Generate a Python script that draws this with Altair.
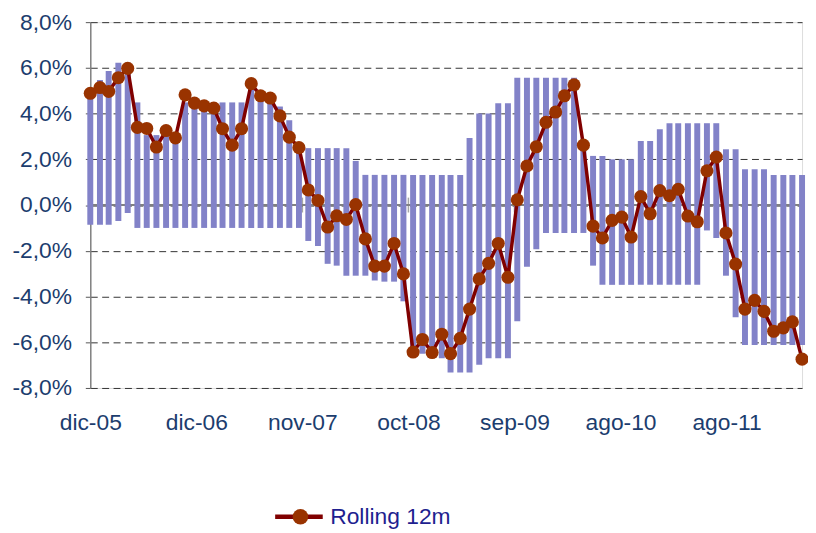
import altair as alt
import pandas as pd

# ---------------- data ----------------
first_month_end = "2005-12-31"

rolling_12m = [4.89, 5.14, 4.97, 5.57, 5.98, 3.40, 3.35, 2.54, 3.26, 2.94,
               4.82, 4.46, 4.34, 4.24, 3.34, 2.62, 3.34, 5.31, 4.78, 4.68,
               3.90, 2.97, 2.51, 0.66, 0.20, -0.96, -0.47, -0.63, 0.02, -1.48,
               -2.67, -2.67, -1.68, -3.01, -6.43, -5.88, -6.45, -5.65, -6.50, -5.83,
               -4.55, -3.23, -2.55, -1.68, -3.16, 0.23, 1.71, 2.55, 3.62, 4.07,
               4.78, 5.26, 2.62, -0.92, -1.44, -0.67, -0.53, -1.40, 0.37, -0.38,
               0.63, 0.41, 0.69, -0.48, -0.73, 1.50, 2.10, -1.22, -2.58, -4.55,
               -4.17, -4.65, -5.52, -5.37, -5.11, -6.74]

range_low = [-0.86, -0.86, -0.86, -0.70, -0.35, -1.00, -1.00, -1.00, -1.00, -1.00,
             -1.00, -1.00, -1.00, -1.00, -1.00, -1.00, -1.00, -1.00, -1.00, -1.00,
             -1.00, -1.00, -1.00, -1.57, -1.79, -2.57, -2.65, -3.09, -3.09, -3.09,
             -3.30, -3.35, -3.35, -4.21, -6.45, -6.50, -6.60, -6.70, -7.32, -7.32,
             -7.32, -6.99, -6.70, -6.70, -6.70, -5.08, -2.70, -1.93, -1.22, -1.22,
             -1.22, -1.22, -1.22, -2.65, -3.49, -3.49, -3.49, -3.49, -3.49, -3.49,
             -3.49, -3.49, -3.49, -3.49, -3.49, -1.11, -1.44, -3.09, -4.91, -6.12,
             -6.12, -6.12, -6.12, -6.12, -6.12, -6.12]

range_high = [4.90, 5.47, 5.86, 6.22, 6.22, 4.49, 3.06, 3.06, 3.06, 3.06,
              4.49, 4.49, 4.49, 4.49, 4.49, 4.49, 4.49, 5.30, 4.80, 4.60,
              4.31, 3.71, 2.60, 2.49, 2.49, 2.49, 2.49, 2.49, 1.93, 1.32,
              1.32, 1.32, 1.32, 1.32, 1.32, 1.32, 1.32, 1.32, 1.32, 1.32,
              2.93, 4.01, 4.01, 4.45, 4.45, 5.57, 5.57, 5.57, 5.57, 5.57,
              5.57, 5.57, 2.80, 2.15, 2.15, 2.00, 2.00, 2.00, 2.80, 2.80,
              3.32, 3.58, 3.58, 3.58, 3.58, 3.58, 3.58, 2.44, 2.44, 1.57,
              1.57, 1.57, 1.32, 1.32, 1.32, 1.32]

series_name = "Rolling 12m"

# axis tick label positions (dates) and Spanish month abbreviations
tick_dates = [(2005, 12, 31), (2006, 12, 6), (2007, 11, 11), (2008, 10, 16),
              (2009, 9, 21), (2010, 8, 27), (2011, 8, 2)]
months_es = ["ene", "feb", "mar", "abr", "may", "jun",
             "jul", "ago", "sep", "oct", "nov", "dic"]
y_ticks = [-8, -6, -4, -2, 0, 2, 4, 6, 8]

# ---------------- tables ----------------
dates = pd.date_range(first_month_end, periods=len(rolling_12m),
                      freq=pd.offsets.MonthEnd())
df = pd.DataFrame({
    "fecha": dates.strftime("%Y-%m-%d"),
    "roll": rolling_12m,
    "lo": range_low,
    "hi": range_high,
    "serie": series_name,
    "serie2": series_name,
})
ticks_df = pd.DataFrame({
    "fecha": [f"{y:04d}-{m:02d}-{d:02d}" for (y, m, d) in tick_dates]
})

FONT = "Liberation Sans"
AXIS_TXT = "#1c3d6e"
LEG_TXT = "#1f1f8f"

month_arr = "[" + ",".join(f"'{m}'" for m in months_es) + "]"
x_label_expr = f"{month_arr}[utcmonth(datum.value)] + '-' + utcFormat(datum.value, '%y')"
y_label_expr = "replace(replace(format(datum.value, '.1f'), '.', ','), '\u2212', '-') + '%'"

x_scale = alt.Scale(
    type="utc",
    domain=[alt.DateTime(year=2005, month=12, date=31, utc=True),
            alt.DateTime(year=2012, month=3, date=31, utc=True)],
    padding=0, nice=False,
)
y_scale = alt.Scale(domain=[-8, 8], nice=False, zero=False, padding=0)

x_axis = alt.Axis(
    values=[alt.DateTime(year=y, month=m, date=d, utc=True) for (y, m, d) in tick_dates],
    labelExpr=x_label_expr,
    grid=False, ticks=False, tickSize=0, domain=False,
    labelFont=FONT, labelFontSize=23, labelColor=AXIS_TXT,
    labelBaseline="alphabetic", labelPadding=42,
    labelFlush=False, labelOverlap=False, labelBound=False,
    title=None,
)
y_axis = alt.Axis(
    values=y_ticks, labelExpr=y_label_expr,
    grid=True, gridDash=[7, 4.5], gridColor="#333333", gridWidth=1,
    domainColor="#808080", domainWidth=1.5,
    tickColor="#555555", tickSize=5, tickWidth=1,
    labelFont=FONT, labelFontSize=23, labelColor=AXIS_TXT, labelPadding=14,
    title=None,
)

base = alt.Chart(df)

zero_line = alt.Chart(df).mark_rule(color="#808080", strokeWidth=1.5).encode(
    y=alt.datum(0, scale=y_scale)
)

x_ticks = alt.Chart(ticks_df).mark_tick(
    orient="vertical", size=15, thickness=1.5, color="#808080"
).encode(
    x=alt.X("fecha:T", scale=x_scale, axis=x_axis),
    y=alt.datum(0),
)

bars = base.mark_bar(size=6, color="#8282c8").encode(
    x=alt.X("fecha:T", scale=x_scale, axis=x_axis),
    y=alt.Y("lo:Q", scale=y_scale, axis=y_axis),
    y2="hi:Q",
)

line = base.mark_line(strokeWidth=3.5).encode(
    x=alt.X("fecha:T", scale=x_scale, axis=x_axis),
    y=alt.Y("roll:Q", scale=y_scale, axis=y_axis),
    stroke=alt.Stroke(
        "serie:N",
        scale=alt.Scale(range=["#800000"]),
        legend=alt.Legend(
            title=None, orient="none", legendX=184, legendY=472.5, padding=0,
            symbolType="M-1,0L1,0", symbolSize=2304, symbolStrokeWidth=4.5,
            labelOffset=5, labelFont=FONT, labelFontSize=23, labelColor=LEG_TXT,
        ),
    ),
)

points = base.mark_circle(size=175, opacity=1).encode(
    x=alt.X("fecha:T", scale=x_scale, axis=x_axis),
    y=alt.Y("roll:Q", scale=y_scale, axis=y_axis),
    fill=alt.Fill(
        "serie2:N",
        scale=alt.Scale(range=["#993300"]),
        legend=alt.Legend(
            title=None, orient="none", legendX=200.5, legendY=487.5, padding=0,
            symbolType="circle", symbolSize=246, symbolStrokeWidth=0,
            symbolOpacity=1, labelExpr="''",
            labelFont=FONT, labelFontSize=23, labelColor=LEG_TXT,
        ),
    ),
)

chart = alt.layer(zero_line, x_ticks, bars, line, points).properties(
    width=718, height=369,
    padding={"left": 83, "top": 12, "right": 6, "bottom": 141},
    autosize=alt.AutoSizeParams(type="none"),
).configure_view(stroke=None).configure(background="white")

chart.save("out.html", embed_options={"renderer": "svg", "actions": False})
